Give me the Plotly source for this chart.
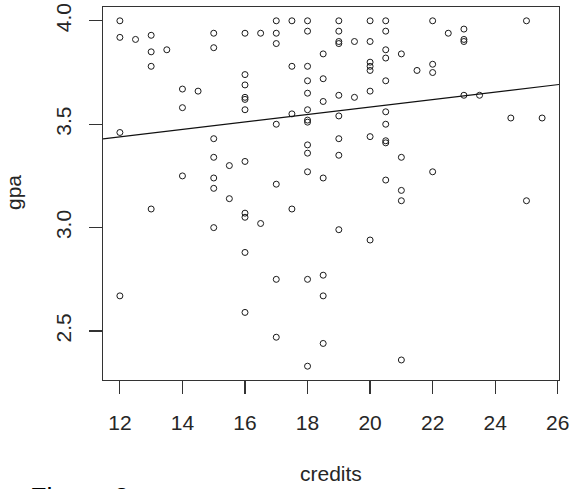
import numpy as np
import plotly.graph_objects as go

# Data (credits, gpa)
credits = (
    [12]*4 + [12.5] + [13]*4 + [13.5] + [14]*3 + [14.5] + [15]*7 + [15.5]*2 +
    [16]*11 + [16.5]*2 + [17]*7 + [17.5]*4 + [18]*13 + [18.5]*7 + [19]*9 +
    [19.5]*2 + [20]*8 + [20.5]*10 + [21]*5 + [21.5] + [22]*4 + [22.5] +
    [23]*4 + [23.5] + [24.5] + [25]*2 + [25.5]
)
gpa = [
    4.00, 3.92, 3.46, 2.67,
    3.91,
    3.93, 3.85, 3.78, 3.09,
    3.86,
    3.67, 3.58, 3.25,
    3.66,
    3.94, 3.87, 3.43, 3.34, 3.24, 3.19, 3.00,
    3.30, 3.14,
    3.94, 3.74, 3.69, 3.63, 3.62, 3.57, 3.32, 3.07, 3.05, 2.88, 2.59,
    3.94, 3.02,
    4.00, 3.94, 3.89, 3.50, 3.21, 2.75, 2.47,
    4.00, 3.78, 3.55, 3.09,
    4.00, 3.95, 3.78, 3.71, 3.65, 3.57, 3.52, 3.51, 3.40, 3.36, 3.27, 2.75, 2.33,
    3.84, 3.72, 3.61, 3.24, 2.77, 2.67, 2.44,
    4.00, 3.95, 3.90, 3.89, 3.64, 3.54, 3.43, 3.35, 2.99,
    3.90, 3.63,
    4.00, 3.90, 3.80, 3.78, 3.76, 3.66, 3.44, 2.94,
    4.00, 3.95, 3.86, 3.82, 3.71, 3.56, 3.50, 3.42, 3.41, 3.23,
    3.84, 3.34, 3.18, 3.13, 2.36,
    3.76,
    4.00, 3.79, 3.75, 3.27,
    3.94,
    3.96, 3.91, 3.90, 3.64,
    3.64,
    3.53,
    4.00, 3.13,
    3.53,
]
# Regression line (abline) coefficients
fit_intercept = 3.2226
fit_slope = 0.01803

x_ticks = [12, 14, 16, 18, 20, 22, 24, 26]
y_ticks = [2.5, 3.0, 3.5, 4.0]
y_tick_labels = ["2.5", "3.0", "3.5", "4.0"]

x = np.array(credits, dtype=float)
y = np.array(gpa, dtype=float)

def r_range(v):
    lo, hi = v.min(), v.max()
    d = (hi - lo) * 0.04
    return [lo - d, hi + d]

xr = r_range(x)
yr = r_range(y)

line_x = np.array(xr)
line_y = fit_intercept + fit_slope * line_x

W, H = 572, 489
ml, mr, mt, mb = 103, 13, 7, 109
ph = H - mt - mb
pw = W - ml - mr

def py(Y):
    return (H - mb - Y) / ph

def px(X):
    return (X - ml) / pw

FONT = "Liberation Sans, Arial, sans-serif"
TXT = "#262626"

fig = go.Figure()
fig.add_trace(go.Scatter(
    x=x, y=y, mode="markers",
    marker=dict(symbol="circle-open", size=6, color="#1a1a1a", line=dict(width=1, color="#1a1a1a")),
    hoverinfo="skip", showlegend=False,
))
fig.add_trace(go.Scatter(
    x=line_x, y=line_y, mode="lines",
    line=dict(color="#111111", width=1.2),
    hoverinfo="skip", showlegend=False,
))

axis_common = dict(
    showgrid=False, zeroline=False, showline=True, mirror=True,
    linecolor="#333333", linewidth=1.2,
    ticks="outside", ticklen=13, tickwidth=1.2, tickcolor="#333333",
    tickfont=dict(family=FONT, size=21, color=TXT),
    automargin=False,
)

fig.update_xaxes(range=xr, tickvals=x_ticks, ticktext=[str(t) for t in x_ticks],
                 ticklabelstandoff=11, **axis_common)
fig.update_yaxes(range=yr, tickvals=y_ticks, ticktext=y_tick_labels, tickangle=-90,
                 ticklabelstandoff=9, **axis_common)

fig.add_annotation(text="credits", x=px(331), y=py(473), xref="paper", yref="paper",
                   showarrow=False, font=dict(family=FONT, size=21, color=TXT),
                   xanchor="center", yanchor="middle")
fig.add_annotation(text="gpa", x=px(13), y=py(193), xref="paper", yref="paper",
                   showarrow=False, textangle=-90, font=dict(family=FONT, size=21, color=TXT),
                   xanchor="center", yanchor="middle")
fig.add_annotation(text="Figure 2", x=px(28), y=py(481), xref="paper", yref="paper",
                   showarrow=False, font=dict(family=FONT, size=27, color="#000000"),
                   xanchor="left", yanchor="top")

fig.update_layout(
    width=W, height=H,
    margin=dict(l=ml, r=mr, t=mt, b=mb, autoexpand=False),
    paper_bgcolor="white", plot_bgcolor="white",
    showlegend=False,
)

fig.write_html(
    "out.html",
    config={"displayModeBar": False, "staticPlot": True},
    post_script="document.body.style.margin='0';document.body.style.overflow='hidden';",
)
